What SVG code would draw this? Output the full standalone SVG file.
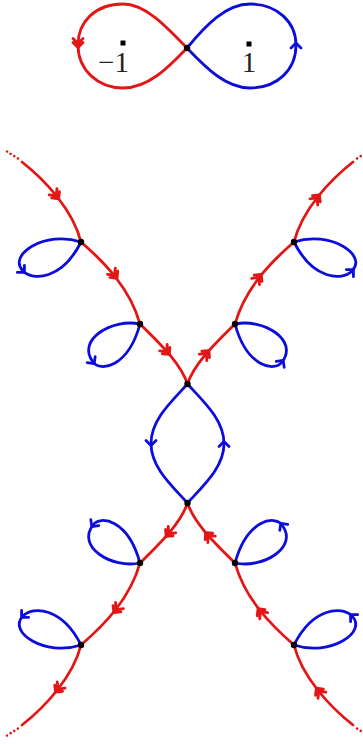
<svg xmlns="http://www.w3.org/2000/svg" xmlns:xlink="http://www.w3.org/1999/xlink" width="363" height="744" viewBox="0 0 363 744">
<style>
.r{fill:none;stroke:#e31515;stroke-width:2.8;stroke-linecap:round;stroke-linejoin:round}
.b{fill:none;stroke:#0c0cdc;stroke-width:2.8;stroke-linecap:round;stroke-linejoin:round}
.d{fill:none;stroke:#e31515;stroke-width:2.6;stroke-linecap:round;stroke-dasharray:0.01 4.3}
.n{fill:#000}
.lbl{font-family:"Liberation Serif","DejaVu Serif",serif;font-size:29px;fill:#222}
</style>
<defs>
<path id="dch" class="r" d="M-2.5,-5 L2.5,0 L-2.5,5 M-6.5,-5 L-1.5,0 L-6.5,5"/>
<path id="sch" class="b" d="M-3,-5 L2,0 L-3,5"/>
</defs>
<g id="connectors">
<path class="r" d="M187,48 C165,25 145,4 123,4 C95,4 78,22 78,45 C78,70 98,88 123,88 C148,88 168,68 187,48"/>
<path class="b" d="M187,48 C206,68 226,88 250,88 C277,88 296,70 296,45 C296,22 277,4 250,4 C226,4 206,25 187,48"/>
<use xlink:href="#dch" href="#dch" transform="translate(78,45) rotate(90)"/>
<use xlink:href="#sch" href="#sch" transform="translate(296,45) rotate(-90)"/>
<path class="d" d="M7,151.5 L19.5,159.5"/>
<path class="d" d="M368,151.5 L355.5,159.5"/>
<path class="d" d="M7,735.5 L19.5,727.5"/>
<path class="d" d="M368,735.5 L355.5,727.5"/>
<path class="r" d="M22,162 C45,180 73,210 81,242"/>
<path class="r" d="M81,242 C104,262 130,288 140,324"/>
<path class="r" d="M140,324 C158,342 180,362 187.5,384"/>
<use xlink:href="#dch" href="#dch" transform="translate(57.1,196.8) rotate(51.7)"/>
<use xlink:href="#dch" href="#dch" transform="translate(115.4,276.3) rotate(51.8)"/>
<use xlink:href="#dch" href="#dch" transform="translate(167.7,352.5) rotate(49)"/>
<path class="r" d="M187.5,384 C195,362 217,342 235,324"/>
<path class="r" d="M235,324 C245,288 271,262 294,242"/>
<path class="r" d="M294,242 C302,210 330,180 353,162"/>
<use xlink:href="#dch" href="#dch" transform="translate(207.3,352.5) rotate(-49)"/>
<use xlink:href="#dch" href="#dch" transform="translate(259.6,276.3) rotate(-51.8)"/>
<use xlink:href="#dch" href="#dch" transform="translate(317.9,196.8) rotate(-51.7)"/>
<path class="r" d="M187.5,503 C180,525 158,545 140,563"/>
<path class="r" d="M140,563 C130,599 104,625 81,645"/>
<path class="r" d="M81,645 C73,677 45,707 22,725"/>
<use xlink:href="#dch" href="#dch" transform="translate(167.7,534.5) rotate(131)"/>
<use xlink:href="#dch" href="#dch" transform="translate(115.4,610.7) rotate(128.2)"/>
<use xlink:href="#dch" href="#dch" transform="translate(57.1,690.2) rotate(128.3)"/>
<path class="r" d="M353,725 C330,707 302,677 294,645"/>
<path class="r" d="M294,645 C271,625 245,599 235,563"/>
<path class="r" d="M235,563 C217,545 195,525 187.5,503"/>
<use xlink:href="#dch" href="#dch" transform="translate(317.9,690.2) rotate(231.7)"/>
<use xlink:href="#dch" href="#dch" transform="translate(259.6,610.7) rotate(231.8)"/>
<use xlink:href="#dch" href="#dch" transform="translate(207.3,534.5) rotate(229)"/>
<path class="b" d="M187.5,384 C171,402 151,420 151,443.5 C151,467 171,485 187.5,503"/>
<path class="b" d="M187.5,503 C204,485 224,467 224,443.5 C224,420 204,402 187.5,384"/>
<use xlink:href="#sch" href="#sch" transform="translate(151,443.5) rotate(90)"/>
<use xlink:href="#sch" href="#sch" transform="translate(224,443.5) rotate(-90)"/>
<path class="b" d="M81,242 C45,230 7,255 23,271 C33,281 62,280 81,242"/>
<use xlink:href="#sch" href="#sch" transform="translate(23,271) rotate(45)"/>
<path class="b" d="M140,324 C112,318 76,340 93,362 C100,372 128,368 140,324"/>
<use xlink:href="#sch" href="#sch" transform="translate(93,362) rotate(53)"/>
<path class="b" d="M294,242 C313,280 342,281 352,271 C368,255 330,230 294,242"/>
<use xlink:href="#sch" href="#sch" transform="translate(352,271) rotate(-45)"/>
<path class="b" d="M235,324 C247,368 275,372 282,362 C299,340 263,318 235,324"/>
<use xlink:href="#sch" href="#sch" transform="translate(282,362) rotate(-53)"/>
<path class="b" d="M81,645 C62,607 33,606 23,616 C7,632 45,657 81,645"/>
<use xlink:href="#sch" href="#sch" transform="translate(23,616) rotate(135)"/>
<path class="b" d="M140,563 C128,519 100,515 93,525 C76,547 112,569 140,563"/>
<use xlink:href="#sch" href="#sch" transform="translate(93,525) rotate(127)"/>
<path class="b" d="M294,645 C330,657 368,632 352,616 C342,606 313,607 294,645"/>
<use xlink:href="#sch" href="#sch" transform="translate(352,616) rotate(225)"/>
<path class="b" d="M235,563 C263,569 299,547 282,525 C275,515 247,519 235,563"/>
<use xlink:href="#sch" href="#sch" transform="translate(282,525) rotate(233)"/>
</g>
<g id="marks">
<rect x="120.5" y="40.5" width="5" height="5" class="n"/>
<rect x="246.5" y="41.5" width="5" height="5" class="n"/>
<text class="lbl" x="113.5" y="72" text-anchor="middle">−1</text>
<text class="lbl" x="249" y="72" text-anchor="middle">1</text>
</g>
<g id="n-top"><circle cx="187" cy="48" r="3.2" class="n"/></g>
<g id="n-a1"><circle cx="81" cy="242" r="3.2" class="n"/></g>
<g id="n-a2"><circle cx="140" cy="324" r="3.2" class="n"/></g>
<g id="n-c1"><circle cx="187.5" cy="384" r="3.2" class="n"/></g>
<g id="n-b2"><circle cx="235" cy="324" r="3.2" class="n"/></g>
<g id="n-b1"><circle cx="294" cy="242" r="3.2" class="n"/></g>
<g id="n-c2"><circle cx="187.5" cy="503" r="3.2" class="n"/></g>
<g id="n-d2"><circle cx="140" cy="563" r="3.2" class="n"/></g>
<g id="n-d1"><circle cx="81" cy="645" r="3.2" class="n"/></g>
<g id="n-e2"><circle cx="235" cy="563" r="3.2" class="n"/></g>
<g id="n-e1"><circle cx="294" cy="645" r="3.2" class="n"/></g>
</svg>
